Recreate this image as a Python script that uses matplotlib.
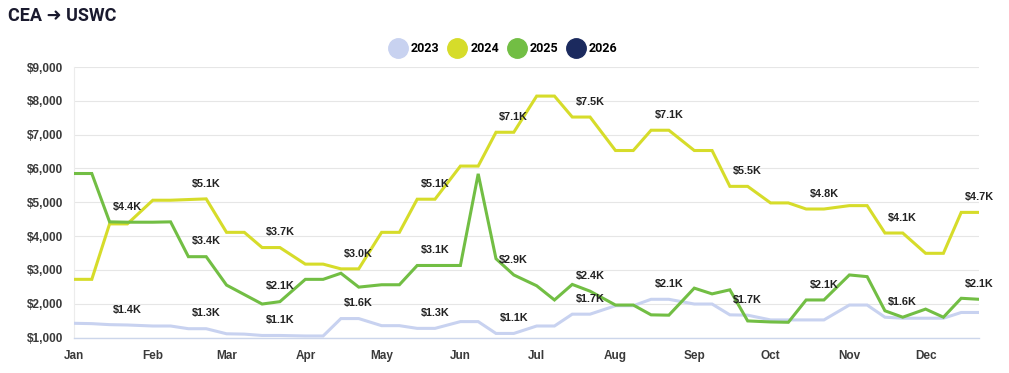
import matplotlib
matplotlib.use("Agg")
import matplotlib.pyplot as plt
import matplotlib.dates as mdates
from matplotlib.lines import Line2D
from datetime import datetime

# datos: 4 lecturas por mes (dias 1, 8, 15, 22)
days = [1, 8, 15, 22]
dates = [datetime(2024, m, d) for m in range(1, 13) for d in days]
month_labels = ["Jan", "Feb", "Mar", "Apr", "May", "Jun",
                "Jul", "Aug", "Sep", "Oct", "Nov", "Dec"]
years = ["2023", "2024", "2025", "2026"]

y2023 = [1420, 1410, 1380, 1370, 1340, 1340, 1260, 1260,
         1110, 1100, 1060, 1060, 1045, 1045, 1560, 1560,
         1350, 1350, 1270, 1270, 1470, 1470, 1120, 1120,
         1340, 1340, 1690, 1690, 1940, 1940, 2130, 2130,
         1990, 1990, 1670, 1660, 1520, 1520, 1520, 1520,
         1960, 1960, 1600, 1570, 1570, 1570, 1740, 1740]
y2024 = [2720, 2720, 4360, 4360, 5060, 5060, 5080, 5100,
         4110, 4110, 3660, 3660, 3170, 3170, 3030, 3030,
         4110, 4110, 5090, 5090, 6070, 6070, 7070, 7070,
         8140, 8140, 7520, 7520, 6530, 6530, 7130, 7130,
         6530, 6530, 5470, 5470, 4980, 4980, 4800, 4800,
         4900, 4900, 4090, 4090, 3490, 3490, 4700, 4700]
y2025 = [5850, 5850, 4420, 4410, 4410, 4420, 3390, 3390,
         2550, 2270, 1990, 2060, 2720, 2720, 2900, 2490,
         2560, 2560, 3130, 3130, 3130, 5840, 3330, 2850,
         2530, 2110, 2570, 2370, 1960, 1960, 1670, 1660,
         2460, 2290, 2410, 1490, 1460, 1450, 2110, 2110,
         2850, 2800, 1790, 1600, 1840, 1600, 2160, 2130]
y2026 = []  # sin datos todavia

colors = ["#c8d2f0", "#d6dc2a", "#72be44", "#1b2a5e"]
series = [y2023, y2024, y2025, y2026]

fig = plt.figure(figsize=(10.09, 3.73), dpi=100)
ax = fig.add_axes([74 / 1009, 1 - 337.5 / 373, 905 / 1009, 270.5 / 373])

for vals, col in zip(series, colors):
    ax.plot(dates[:len(vals)], vals, color=col, lw=2.2, solid_joinstyle="miter", zorder=3)

ax.set_xlim(dates[0], dates[-1])
ax.set_ylim(1000, 9000)
ax.set_yticks(range(1000, 9001, 1000))
ax.set_yticklabels([f"${v:,}" for v in range(1000, 9001, 1000)])
ax.set_xticks([datetime(2024, m, 1) for m in range(1, 13)])
ax.set_xticklabels(month_labels)

ax.grid(axis="y", color="#e6e6e6", lw=0.8)
ax.set_axisbelow(True)
for s in ["top", "right"]:
    ax.spines[s].set_visible(False)
ax.spines["left"].set_color("#ececec")
ax.spines["left"].set_linewidth(0.8)
ax.spines["bottom"].set_color("#ccd6eb")
ax.spines["bottom"].set_linewidth(1)
ax.tick_params(length=0, pad=8)
for lab in ax.get_xticklabels() + ax.get_yticklabels():
    lab.set_fontfamily("Liberation Sans")
    lab.set_fontweight("bold")
    lab.set_fontsize(8.5)
    lab.set_color("#3a3a3a")
ax.tick_params(axis="x", pad=9)

# etiquetas cada 4 puntos, se ocultan las que se solapan (gana la mas alta)
for i in range(3, len(dates), 4):
    xnum = mdates.date2num(dates[i])
    cands = sorted([vals[i] for vals in series if len(vals) > i], reverse=True)
    kept = []
    for v in cands:
        ypx = ax.transData.transform((xnum, v))[1]
        if all(abs(ypx - k) > 21 for k in kept):
            kept.append(ypx)
            ax.annotate(f"${v / 1000:.1f}K", (dates[i], v), xytext=(0, 11),
                        textcoords="offset points", ha="center", va="center",
                        fontsize=7.8, fontweight="bold", color="#222222",
                        family="Liberation Sans", zorder=5)

# leyenda
handles = [Line2D([], [], marker="o", ls="", markersize=14, color=c) for c in colors]
fig.legend(handles, years, loc="center", bbox_to_anchor=(503 / 1009, 1 - 49 / 373),
           ncol=4, frameon=False, handlelength=1.5, handletextpad=0.3,
           columnspacing=0.66, prop={"family": "Roboto", "weight": "bold", "size": 9})

fig.text(8 / 1009, 1 - 16 / 373, "CEA ➜ USWC", ha="left", va="center",
         fontsize=13, fontweight="bold", color="#1a1a2e",
         family=["Roboto", "DejaVu Sans"])

fig.savefig("out.png", dpi=100)
